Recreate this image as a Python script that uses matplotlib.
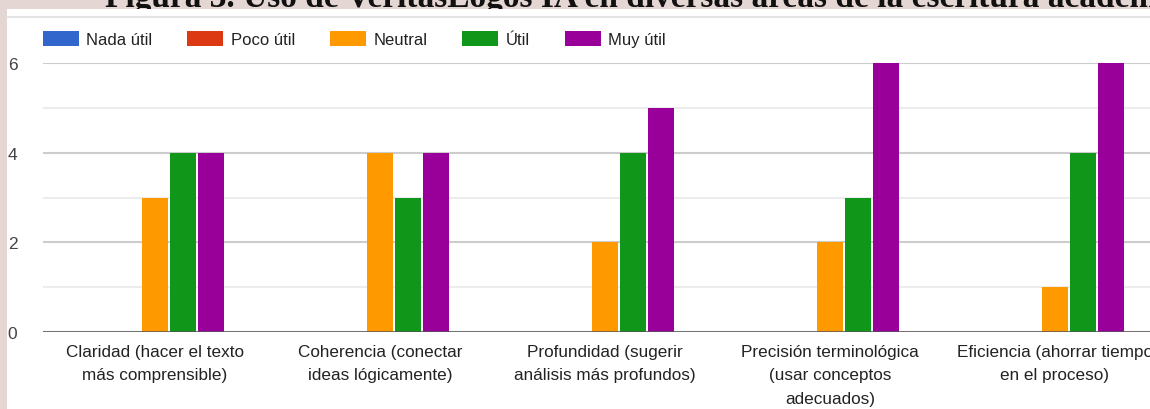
import matplotlib
matplotlib.use("Agg")
import matplotlib.pyplot as plt
import numpy as np
from matplotlib.patches import Rectangle
from matplotlib.lines import Line2D

# ---- data ----
categories = [
    "Claridad (hacer el texto\nmás comprensible)",
    "Coherencia (conectar\nideas lógicamente)",
    "Profundidad (sugerir\nanálisis más profundos)",
    "Precisión terminológica\n(usar conceptos\nadecuados)",
    "Eficiencia (ahorrar tiempo\nen el proceso)",
]
series_names = ["Nada útil", "Poco útil", "Neutral", "Útil", "Muy útil"]
nada_util = [0, 0, 0, 0, 0]
poco_util = [0, 0, 0, 0, 0]
neutral = [3, 4, 2, 2, 1]
util = [4, 3, 4, 3, 4]
muy_util = [4, 4, 5, 6, 6]
y_ticks = [0, 2, 4, 6]
title_text = "Figura 3. Uso de VeritasLogos IA en diversas áreas de la escritura académica"

colors = ["#3366cc", "#dc3912", "#ff9900", "#109618", "#990099"]
series = [nada_util, poco_util, neutral, util, muy_util]

W, H = 1150, 410
fig = plt.figure(figsize=(W / 100, H / 100), dpi=100)
fig.patch.set_facecolor("#e4d6d3")

FONT = ["Liberation Sans", "DejaVu Sans"]

# title (partially hidden behind the white panel, cropped like the reference)
fig.text(105 / W, 1 - 7.5 / H, title_text, fontsize=24, fontweight="bold",
         family=["Liberation Serif", "DejaVu Serif"], color="#111111",
         ha="left", va="baseline", zorder=-3)

# white panel
panel = Rectangle((7 / W, 0), 1, 1 - 10 / H, transform=fig.transFigure,
                  facecolor="white", edgecolor="none", zorder=-2)
fig.patches.append(panel)
fig.lines.append(Line2D([7 / W, 1], [1 - 18 / H, 1 - 18 / H], transform=fig.transFigure,
                        color="#e3e3e3", lw=1.5, zorder=-1))

# axes
left = 42.5 / W
width = 1125 / W
bottom = (H - 333) / H
height = (333 - 64) / H
ax = fig.add_axes([left, bottom, width, height])
ax.set_facecolor("none")

x = np.arange(len(categories))
pitch = 28 / 225
bw = 26 / 225
n = len(series)
for i, (vals, c, name) in enumerate(zip(series, colors, series_names)):
    offs = (i - (n - 1) / 2) * pitch
    ax.bar(x + offs, vals, width=bw, color=c, label=name, zorder=3, linewidth=0)

ax.set_xlim(-0.5, len(categories) - 0.5)
ax.set_ylim(0, 6)
ax.set_yticks(y_ticks)
ax.set_yticks([1, 3, 5], minor=True)
ax.yaxis.grid(True, which="major", color="#cccccc", lw=1.5, zorder=0)
ax.yaxis.grid(True, which="minor", color="#ececec", lw=1.5, zorder=0)
ax.axhline(0, color="#555555", lw=1.8, zorder=4)
for s in ax.spines.values():
    s.set_visible(False)
ax.tick_params(axis="y", which="both", length=0, pad=18, labelsize=12.5, labelcolor="#444444")
for lab in ax.get_yticklabels():
    lab.set_family(FONT)
ax.set_xticks(x)
ax.set_xticklabels(categories, fontsize=12.3, color="#222222", family=FONT, linespacing=1.72)
ax.tick_params(axis="x", length=0, pad=8.5)

leg = fig.legend(loc="center left", bbox_to_anchor=(43 / W, 1 - 40 / H), ncol=5,
                 frameon=False, borderpad=0, borderaxespad=0,
                 handlelength=2.15, handleheight=1.05, handletextpad=0.45,
                 columnspacing=2.1, prop={"family": FONT, "size": 12})
for t in leg.get_texts():
    t.set_color("#222222")

fig.savefig("out.png", dpi=100, facecolor=fig.get_facecolor())
